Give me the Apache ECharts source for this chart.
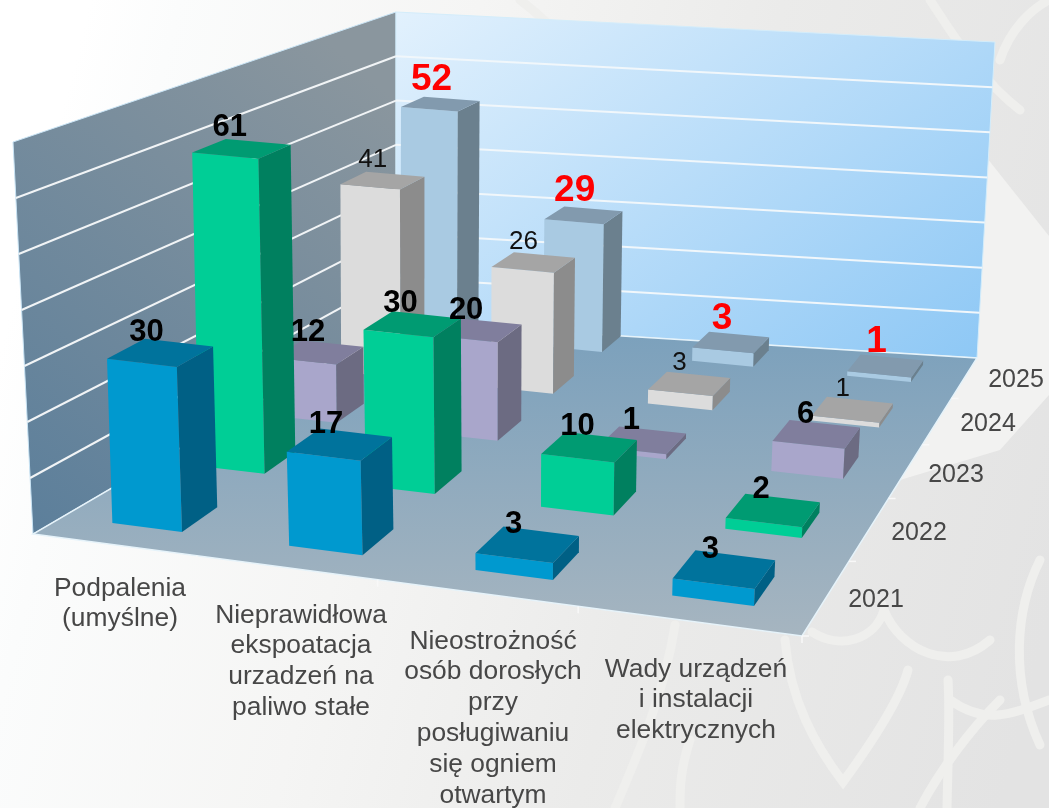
<!DOCTYPE html>
<html>
<head>
<meta charset="utf-8">
<style>html,body{margin:0;padding:0;background:#fff}#c{width:1049px;height:808px}</style>
<script src="https://cdn.jsdelivr.net/npm/echarts@6/dist/echarts.min.js"></script>
</head>
<body>
<div id="c"></div>
<script>
// ---- data ----
var categories = ['Podpalenia\n(umyślne)', 'Nieprawidłowa\nekspoatacja\nurzadzeń na\npaliwo stałe', 'Nieostrożność\nosób dorosłych\nprzy\nposługiwaniu\nsię ogniem\notwartym', 'Wady urządzeń\ni instalacji\nelektrycznych'];
var years = ['2021', '2022', '2023', '2024', '2025'];
var v2021 = [30, 17, 3, 3];
var v2022 = [61, 30, 10, 2];
var v2023 = [12, 20, 1, 6];
var v2024 = [41, 26, 3, 1];
var v2025 = [52, 29, 3, 1];
var seriesValues = [v2021, v2022, v2023, v2024, v2025];
var axisMax = 70, axisStep = 10;

// ---- styles ----
var faces = [
  {front:'#0099cf', top:'#00739c', side:'#006085'},
  {front:'#00ce96', top:'#009b72', side:'#00805f'},
  {front:'#a9a6cb', top:'#807e9d', side:'#6c6b82'},
  {front:'#dcdcdc', top:'#a5a5a5', side:'#8c8c8c'},
  {front:'#a9cae2', top:'#829aae', side:'#6b808e'}
];
var labelStyles = [
  {font:'bold 31px "Liberation Sans"', fill:'#000', dx:-14, dy:-20},
  {font:'bold 31px "Liberation Sans"', fill:'#000', dx:-12, dy:-21},
  {font:'bold 31px "Liberation Sans"', fill:'#000', dx:-11, dy:-20},
  {font:'26px "Liberation Sans"', fill:'#111', dx:-10, dy:-21},
  {font:'bold 37px "Liberation Sans"', fill:'#ff0000', dx:-9, dy:-24}
];
var catAnchors = [[120,573],[301,600],[493,626],[696,654]];
var yearAnchors = [[876,600],[919,533],[956,475],[988,424],[1016,380]];
var barW = 0.4, barD = 0.41;

// ---- perspective: unit square -> quad ----
function quadMap(q) { // q: (0,0),(1,0),(1,1),(0,1)
  var x0=q[0][0],y0=q[0][1],x1=q[1][0],y1=q[1][1],x2=q[2][0],y2=q[2][1],x3=q[3][0],y3=q[3][1];
  var dx1=x1-x2,dx2=x3-x2,sx=x0-x1+x2-x3,dy1=y1-y2,dy2=y3-y2,sy=y0-y1+y2-y3;
  var den=dx1*dy2-dx2*dy1, g=(sx*dy2-dx2*sy)/den, h=(dx1*sy-sx*dy1)/den;
  var a=x1-x0+g*x1,b=x3-x0+h*x3,d=y1-y0+g*y1,e=y3-y0+h*y3;
  return function(u,v){var w=g*u+h*v+1;return [(a*u+b*v+x0)/w,(d*u+e*v+y0)/w];};
}
var floorMap = quadMap([[33,534],[802,636],[977,358],[396,322]]);
var topMap = quadMap([[13,142],[821,223],[995,42],[396,12]]);
// placement of the bars: (first category, first year) .. (last category, last year), at value 0 and at axisMax
var barFloorMap = quadMap([[182,532],[754,606],[911,382],[457,338]]);
var barTopMap = quadMap([[170,147],[770,207],[929,67],[458,33]]);

// u = category position, v = depth position, z = value; horizontal and vertical scales come from the hidden axes
function axisFractions(api, params, u, z) {
  var c = api.coord([u, z]), cs = params.coordSys;
  return [(c[0]-cs.x)/cs.width, 1-(c[1]-cs.y)/cs.height];
}
function mix(f, t, k) { return [f[0]+(t[0]-f[0])*k, f[1]+(t[1]-f[1])*k]; }
function project(api, params, u, v, z) {
  var a = axisFractions(api,params,u,z), nv = v/years.length;
  return mix(floorMap(a[0],nv), topMap(a[0],nv), a[1]);
}
// bar coordinates: (c, r, z) = front-right floor corner of category c, year r, lifted to value z
function projectBar(api, params, c, r, z) {
  var a = axisFractions(api,params,c,z);
  var nu = a[0]*categories.length/(categories.length-1), nv = r/(years.length-1);
  return mix(barFloorMap(nu,nv), barTopMap(nu,nv), a[1]);
}
function poly(points, fill, stroke, lw) {
  return {type:'polygon', shape:{points:points}, style:{fill:fill, stroke:stroke||null, lineWidth:lw||0}};
}
function line(a, b, color, w) {
  return {type:'line', shape:{x1:a[0],y1:a[1],x2:b[0],y2:b[1]}, style:{stroke:color, lineWidth:w, fill:null}};
}
var LG = echarts.graphic.LinearGradient;

var bgStrokes = [
  'M785 640 C790 700 815 745 843 782 C870 745 900 700 908 670',
  'M812 632 C840 650 875 640 884 610 C900 650 950 675 990 640',
  'M948 680 C950 710 948 760 947 808',
  'M950 700 C985 725 1010 715 1049 700',
  'M675 625 C665 690 640 750 615 808',
  'M690 740 C680 770 680 790 680 808',
  'M1040 560 C1015 610 1010 680 1040 745',
  'M520 0 C560 30 590 70 600 90',
  'M930 0 C950 30 980 80 1020 110',
  'M920 808 C940 770 970 730 1000 700',
  'M1000 60 C1010 30 1030 10 1049 0'
];
function renderBackground() {
  var kids = [
    {type:'rect',shape:{x:0,y:0,width:1049,height:808},style:{fill:new LG(0,350,1049,620,[{offset:0,color:'#ffffff'},{offset:0.08,color:'#fbfcfc'},{offset:0.35,color:'#f5f5f4'},{offset:0.62,color:'#ebebea'},{offset:1,color:'#e3e3e3'}],true)}},
    poly([[960,124],[1049,236],[1049,395],[1000,450],[900,480],[900,300]],'#f2f2f1')
  ];
  bgStrokes.forEach(function(d){kids.push({type:'path',shape:{pathData:d},style:{fill:null,stroke:'#efefed',lineWidth:9,lineCap:'round'}});});
  return {type:'group',children:kids};
}
function renderScene(params, api) {
  var P = function(u,v,z){return project(api,params,u,v,z);};
  var nC = categories.length, nY = years.length, kids = [];
  kids.push(poly([P(0,0,axisMax),P(0,nY,axisMax),P(0,nY,0),P(0,0,0)],
    new LG(30,530,396,100,[{offset:0,color:'#5c7f9b'},{offset:1,color:'#8a969e'}],true),'#c9e4f5',1));
  kids.push(poly([P(0,nY,axisMax),P(nC,nY,axisMax),P(nC,nY,0),P(0,nY,0)],
    new LG(396,12,822,571,[{offset:0,color:'#e2f1fd'},{offset:1,color:'#84c3f4'}],true),'#d4edfb',1));
  kids.push(poly([P(0,0,0),P(nC,0,0),P(nC,nY,0),P(0,nY,0)],
    new LG(0,322,0,636,[{offset:0,color:'#7aa0bc'},{offset:1,color:'#a6b5c0'}],true),'#e6f3fa',1.5));
  for (var z=axisStep; z<axisMax; z+=axisStep) {
    kids.push(line(P(0,0,z),P(0,nY,z),'#f1f4f6',2));
    kids.push(line(P(0,nY,z),P(nC,nY,z),'#f1f7fb',2));
  }
  for (var i=1;i<=nC;i++){ var a=P(i,0,0); kids.push(line(a,[a[0],a[1]+7],'#f8f8f8',1.5)); }
  for (var r=0;r<nY;r++){ var b=P(nC,r,0); kids.push(line(b,[b[0]+7,b[1]],'#f8f8f8',1.5)); }
  return {type:'group', children:kids};
}
function renderBar(params, api) {
  var cat=api.value(0), row=api.value(1), val=api.value(2), st=faces[row];
  var P = function(u,v,z){return projectBar(api,params,u,v,z);};
  var u0=cat-barW,u1=cat,v0=row,v1=row+barD;
  return {type:'group',children:[
    poly([P(u0,v0,0),P(u1,v0,0),P(u1,v0,val),P(u0,v0,val)],st.front),
    poly([P(u1,v0,0),P(u1,v1,0),P(u1,v1,val),P(u1,v0,val)],st.side),
    poly([P(u0,v0,val),P(u1,v0,val),P(u1,v1,val),P(u0,v1,val)],st.top)
  ]};
}
function renderLabel(params, api) {
  var cat=api.value(0), row=api.value(1), val=api.value(2), st=labelStyles[row];
  var c=projectBar(api,params,cat-barW/2,row+barD/2,val);
  return {type:'text',style:{text:String(val),x:c[0]+st.dx,y:c[1]+st.dy,font:st.font,fill:st.fill,align:'center',verticalAlign:'middle'}};
}

var barData=[];
for (var r=years.length-1;r>=0;r--) for (var c=0;c<categories.length;c++) barData.push([c,r,seriesValues[r][c]]);

var textGraphics = [];
categories.forEach(function(t,i){textGraphics.push({type:'text',z:5,x:catAnchors[i][0],y:catAnchors[i][1],style:{text:t,font:'26.4px "Liberation Sans"',fill:'#474747',align:'center',verticalAlign:'top',lineHeight:30.8}});});
years.forEach(function(t,i){textGraphics.push({type:'text',z:5,x:yearAnchors[i][0],y:yearAnchors[i][1],style:{text:t,font:'25px "Liberation Sans"',fill:'#474747',align:'center',verticalAlign:'middle'}});});

var chart = echarts.init(document.getElementById('c'),null,{width:1049,height:808});
chart.setOption({
  animation:false,
  tooltip:{show:false},
  grid:{left:0,right:0,top:0,bottom:0},
  xAxis:{type:'value',min:0,max:categories.length,show:false},
  yAxis:{type:'value',min:0,max:axisMax,interval:axisStep,show:false},
  graphic:{elements:textGraphics},
  series:[
    {type:'custom',z:1,silent:true,clip:false,renderItem:renderBackground,data:[[0,0]],encode:{x:0,y:1}},
    {type:'custom',z:2,silent:true,clip:false,renderItem:renderScene,data:[[0,0]],encode:{x:0,y:1}},
    {type:'custom',z:3,silent:true,clip:false,renderItem:renderBar,data:barData,encode:{x:0,y:2}},
    {type:'custom',z:4,silent:true,clip:false,renderItem:renderLabel,data:barData,encode:{x:0,y:2}}
  ]
});
</script>
</body>
</html>
